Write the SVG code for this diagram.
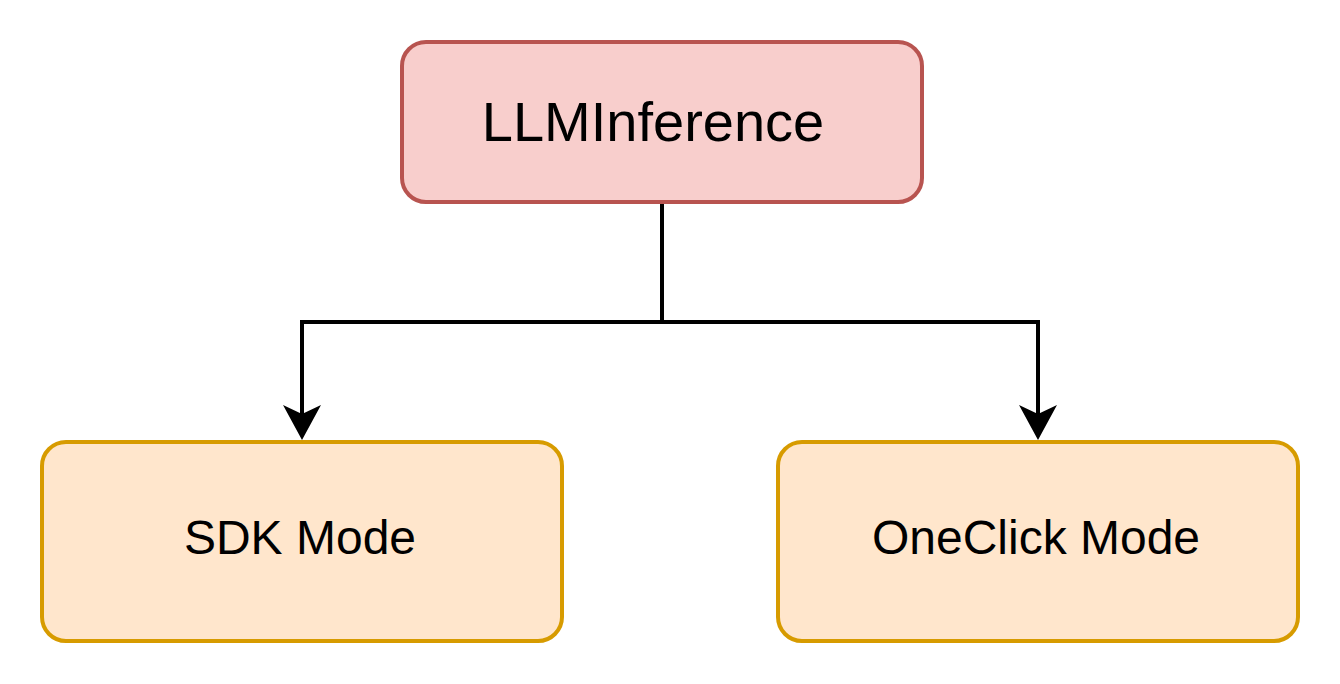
<svg xmlns="http://www.w3.org/2000/svg" width="1340" height="684" viewBox="0 0 1340 684">
<style>
.top{fill:#f8cecc;stroke:#b85450;stroke-width:4}
.mode{fill:#ffe6cc;stroke:#d79b00;stroke-width:4}
.lbl{font-family:"Liberation Sans",Arial,Helvetica,sans-serif;fill:#000;text-anchor:middle}
.edge{fill:none;stroke:#000;stroke-width:4}
.head{fill:#000;stroke:none}
</style>
<rect width="1340" height="684" fill="#ffffff"/>
<g id="connectors">
<polyline class="edge" points="662,202 662,322 302,322 302,414"/>
<path class="head" d="M302,440 L283,405 L302,414 L321,405 Z"/>
<polyline class="edge" points="662,322 1038,322 1038,414"/>
<path class="head" d="M1038,440 L1019,405 L1038,414 L1057,405 Z"/>
</g>
<g id="llminference">
<rect class="top" x="402" y="42" width="520" height="160" rx="24" ry="24"/>
<text class="lbl" x="653" y="141" font-size="56">LLMInference</text>
</g>
<g id="sdk-mode">
<rect class="mode" x="42" y="442" width="520" height="199" rx="24" ry="24"/>
<text class="lbl" x="300" y="554" font-size="48">SDK Mode</text>
</g>
<g id="oneclick-mode">
<rect class="mode" x="778" y="442" width="520" height="199" rx="24" ry="24"/>
<text class="lbl" x="1036" y="554" font-size="48">OneClick Mode</text>
</g>
</svg>
